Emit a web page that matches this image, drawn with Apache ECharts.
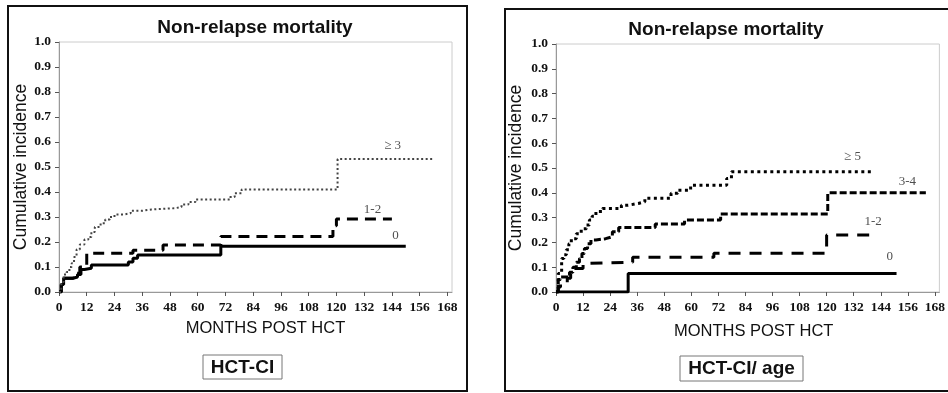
<!DOCTYPE html>
<html>
<head>
<meta charset="utf-8">
<script src="https://cdn.jsdelivr.net/npm/echarts@6/dist/echarts.min.js"></script>
<style>
html,body{margin:0;padding:0;background:#fff;}
#chart{width:948px;height:393px;}
</style>
</head>
<body>
<div id="chart"></div>
<script>
// ---- data ----
var chartTitle = 'Non-relapse mortality';
var yAxisName = 'Cumulative incidence';
var xAxisName = 'MONTHS POST HCT';
var xTicks = [0,12,24,36,48,60,72,84,96,108,120,132,144,156,168];
var panelLabels = ['HCT-CI', 'HCT-CI/ age'];

// Left panel: HCT-CI  [month, cumulative incidence]
var hctci_0 = [[0,0],[1,0.03],[2,0.055],[6,0.06],[8,0.07],[9.5,0.09],[11,0.095],[14,0.108],[30,0.12],[32,0.135],[34,0.148],[70,0.183],[150,0.183]];
var hctci_12 = [[0,0],[1,0.03],[2,0.055],[6,0.06],[7,0.075],[9,0.1],[12,0.155],[32,0.167],[45,0.188],[70,0.222],[118.5,0.265],[120,0.292],[144,0.292]];
var hctci_3 = [[0,0],[1,0.04],[2,0.07],[3.3,0.08],[4.5,0.1],[5.5,0.115],[6.5,0.14],[7.6,0.17],[9,0.19],[11,0.21],[12.7,0.22],[14,0.24],[15.5,0.26],[18,0.275],[20,0.29],[22,0.3],[24,0.31],[28,0.315],[31,0.325],[36,0.33],[40,0.335],[50,0.34],[53,0.35],[56,0.36],[59,0.37],[74,0.38],[76,0.395],[79,0.41],[120.5,0.532],[162,0.532]];
var leftLabels = [['≥ 3',144.3,0.584],['1-2',135.6,0.328],['0',145.6,0.224]];

// Right panel: HCT-CI / age
var age_0 = [[0,0],[32,0.075],[151,0.075]];
var age_12 = [[0,0],[1,0.02],[2,0.035],[5,0.055],[6.5,0.095],[12,0.115],[13,0.12],[34,0.14],[70,0.156],[120,0.23],[141,0.23]];
var age_34 = [[0,0],[1,0.05],[2,0.06],[6,0.08],[7.5,0.1],[9,0.12],[10.4,0.135],[11.5,0.155],[12.6,0.175],[14,0.195],[15.5,0.21],[17.7,0.215],[22,0.223],[25,0.243],[27.8,0.26],[44,0.274],[57,0.29],[73,0.315],[120.5,0.4],[164,0.4]];
var age_5 = [[0,0],[1,0.075],[2.5,0.135],[3.5,0.15],[4.6,0.17],[5.7,0.195],[6.8,0.215],[9,0.235],[10.5,0.245],[12,0.255],[13.5,0.27],[14.8,0.29],[16,0.305],[17.7,0.325],[20.6,0.337],[29,0.35],[32,0.357],[36.5,0.364],[39.4,0.378],[51,0.398],[54,0.41],[59.7,0.43],[75.7,0.458],[77.8,0.485],[141,0.485]];
var rightLabels = [['≥ 5',131.5,0.548],['3-4',155.8,0.444],['1-2',140.6,0.282],['0',148,0.141]];

// ---- chart ----
var sans = '"Liberation Sans", Arial, sans-serif';
var serif = '"Liberation Serif", "Times New Roman", serif';

function xAxisFor(idx, gap, pad) {
  return {
    type: 'value', gridIndex: idx, min: 0, max: 170,
    name: xAxisName, nameLocation: 'middle', nameGap: gap,
    nameTextStyle: {fontFamily: sans, fontSize: 16.5, color: '#111', padding: pad},
    axisLine: {show: true, lineStyle: {color: '#999', width: 1}},
    axisTick: {show: true, length: 4, inside: false, customValues: xTicks, lineStyle: {color: '#555'}},
    axisLabel: {customValues: xTicks, margin: 9, fontFamily: serif, fontWeight: 'bold', fontSize: 13.5, color: '#111'},
    splitLine: {show: false}
  };
}
function yAxisFor(idx, gap) {
  return {
    type: 'value', gridIndex: idx, min: 0, max: 1, interval: 0.1,
    name: yAxisName, nameLocation: 'middle', nameGap: gap, nameRotate: 90,
    nameTextStyle: {fontFamily: sans, fontSize: 17.5, color: '#111'},
    axisLine: {show: true, lineStyle: {color: '#999', width: 1}},
    axisTick: {show: true, length: 4, inside: false, lineStyle: {color: '#555'}},
    axisLabel: {margin: 8, fontFamily: serif, fontWeight: 'bold', fontSize: 13.5, color: '#111',
      formatter: function (v) { return v.toFixed(1); }},
    splitLine: {show: false}
  };
}
function stepLine(idx, data, width, dash, color) {
  return {
    type: 'line', xAxisIndex: idx, yAxisIndex: idx, data: data, step: 'end',
    showSymbol: false, symbol: 'none', silent: true, animation: false,
    lineStyle: {color: color || '#000', width: width, type: dash, cap: 'butt'}
  };
}
function labelSeries(idx, labels) {
  return {
    type: 'scatter', xAxisIndex: idx, yAxisIndex: idx, symbolSize: 0, silent: true, animation: false,
    data: labels.map(function (l) { return {value: [l[1], l[2]], name: l[0]}; }),
    label: {show: true, position: [0, 0], align: 'center', verticalAlign: 'middle',
      formatter: function (p) { return p.name; },
      fontFamily: serif, fontSize: 13, color: '#222'}
  };
}

var chart = echarts.init(document.getElementById('chart'), null, {renderer: 'canvas'});
chart.setOption({
  backgroundColor: '#fff',
  animation: false,
  grid: [
    {left: 59, right: 496, top: 42, bottom: 101, show: true, borderColor: '#ccc', borderWidth: 1, backgroundColor: 'transparent'},
    {left: 556, right: 1, top: 44, bottom: 101, show: true, borderColor: '#ccc', borderWidth: 1, backgroundColor: 'transparent'}
  ],
  xAxis: [xAxisFor(0, 24, [0,0,0,20]), xAxisFor(1, 31, [0,0,0,12])],
  yAxis: [yAxisFor(0, 28), yAxisFor(1, 31)],
  series: [
    stepLine(0, hctci_0, 3, 'solid'),
    stepLine(0, hctci_12, 3, [11, 7]),
    stepLine(0, hctci_3, 2, [2, 2.5], '#444'),
    labelSeries(0, leftLabels),
    stepLine(1, age_0, 3, 'solid'),
    stepLine(1, age_12, 3, [12, 9]),
    stepLine(1, age_34, 3, [7, 3]),
    stepLine(1, age_5, 3, [3, 3.5]),
    labelSeries(1, rightLabels)
  ],
  graphic: [
    {type: 'rect', shape: {x: 8, y: 6, width: 459, height: 385}, style: {fill: 'none', stroke: '#111', lineWidth: 2}, silent: true},
    {type: 'rect', shape: {x: 505, y: 9, width: 460, height: 382}, style: {fill: 'none', stroke: '#111', lineWidth: 2}, silent: true},
    {type: 'text', x: 255, y: 28, style: {text: chartTitle, font: 'bold 19px ' + sans, fill: '#111', align: 'center', verticalAlign: 'middle'}, silent: true},
    {type: 'text', x: 726, y: 30, style: {text: chartTitle, font: 'bold 19px ' + sans, fill: '#111', align: 'center', verticalAlign: 'middle'}, silent: true},
    {type: 'rect', shape: {x: 203, y: 355, width: 79, height: 24}, style: {fill: '#fff', stroke: '#777', lineWidth: 1}, silent: true},
    {type: 'text', x: 242.5, y: 367.5, style: {text: panelLabels[0], font: 'bold 19px ' + sans, fill: '#111', align: 'center', verticalAlign: 'middle'}, silent: true},
    {type: 'rect', shape: {x: 680, y: 356, width: 123, height: 25}, style: {fill: '#fff', stroke: '#777', lineWidth: 1}, silent: true},
    {type: 'text', x: 741.5, y: 368.5, style: {text: panelLabels[1], font: 'bold 19px ' + sans, fill: '#111', align: 'center', verticalAlign: 'middle'}, silent: true}
  ]
});
</script>
</body>
</html>
